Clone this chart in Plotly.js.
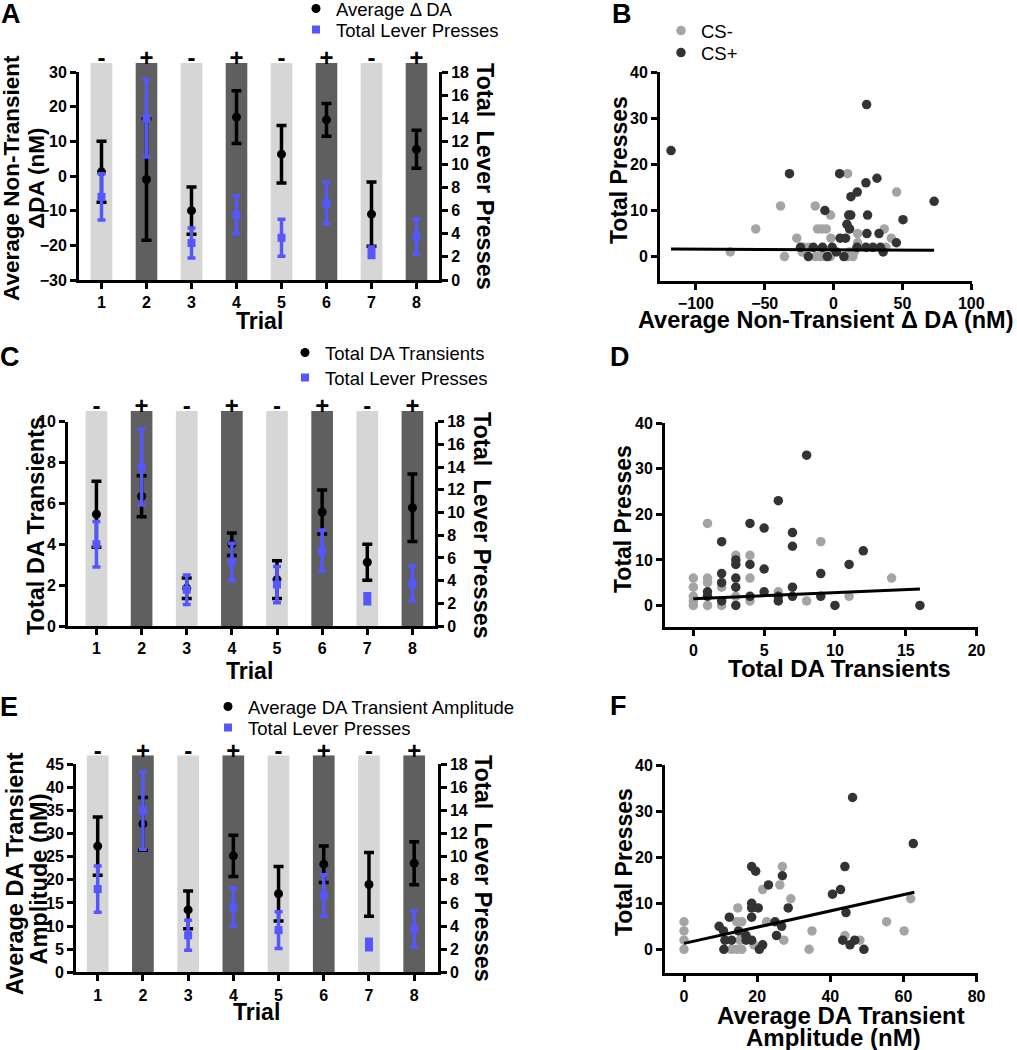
<!DOCTYPE html>
<html><head><meta charset="utf-8">
<script src="https://cdn.plot.ly/plotly-3.0.1.min.js"></script>
<style>html,body{margin:0;padding:0;background:#fff}</style>
</head><body><div id="chart" style="width:1017px;height:1050px"></div>
<script>
// ---------------- data ----------------
const trials = [1, 2, 3, 4, 5, 6, 7, 8];
const csSigns = ['-', '+', '-', '+', '-', '+', '-', '+'];
const leverMean = [7.2, 14.0, 3.2, 5.65, 3.65, 6.65, 2.4, 3.75];
const leverSem = [2.0, 3.35, 1.3, 1.65, 1.6, 1.8, 0.45, 1.55];
const avgDAMean = [1.2, -1.0, -10.0, 17.0, 6.3, 16.2, -11.0, 7.7];
const avgDASem = [8.8, 17.5, 6.8, 7.6, 8.3, 4.7, 9.3, 5.5];
const transMean = [5.47, 6.35, 1.85, 4.0, 2.27, 5.58, 3.12, 5.79];
const transSem = [1.62, 1.0, 0.5, 0.55, 0.92, 1.08, 0.88, 1.65];
const ampMean = [27.3, 32.1, 13.5, 25.2, 17.0, 23.4, 19.0, 23.6];
const ampSem = [6.3, 5.7, 4.1, 4.45, 5.9, 3.95, 6.9, 4.65];

// B: Average non-transient dDA vs total presses
const bMinusX = [-75, -38.5, -56.5, -35.6, -26.7, -13.3, -2.2, -11.6, -8.5, -5.3, 10.2, 45.8, 36.8, 41.9, 17.5, 17.5, -1.9, -21.8, -18, -22.8, -13, -9.7, -6.5, -2.4, 10, 14, 11.6, 15, 38];
const bMinusY = [1, 11, 6, 0, 4, 11, 9, 6, 6, 6, 18, 14, 6, 4, 5, 3, 4, 2, 2, 1, 0, 0, 0, 0, 0, 0, 1, 1, 2];
const bPlusX = [-118, -32, 4.4, 24, 23.5, 17.2, 31.5, 12.6, -6.3, 11, 12.5, 24.7, 73, 50.4, 9.7, 11.6, 24.2, 33, 4.8, 8.7, 45.6, -24, -14.7, -8, -1, 17, 23.5, 28.6, 34, 2, 36, -18.3, -4.5, 7.5];
const bPlusY = [23, 18, 18, 33, 16, 14, 17, 13, 10, 9, 9, 9, 12, 8, 7, 6, 5, 5, 4, 4, 3, 2, 2, 2, 2, 2, 2, 2, 2, 1, 1, 0, 0, 0];
const bFitX = [-118, 73];
const bFitY = [1.66, 1.37];

// D: Total DA transients vs total presses
const dMinusX = [1, 9, 3, 4, 14, 0, 0, 0, 0, 0, 1, 1, 1, 2, 2, 4, 4, 6, 8, 11, 3];
const dMinusY = [18, 14, 11, 11, 6, 6, 4, 2, 1, 0, 6, 5, 0, 4, 0, 6, 1, 3, 1, 2, 2];
const dPlusX = [8, 6, 4, 5, 7, 2, 7, 12, 3, 3, 4, 11, 5, 2, 9, 2, 3, 1, 3, 7, 5, 6, 6, 4, 7, 9, 2, 1, 3, 10, 16];
const dPlusY = [33, 23, 18, 17, 16, 14, 13, 12, 10, 9, 9, 9, 8, 7, 7, 5, 6, 3, 4, 4, 3, 2, 1, 2, 2, 2, 1, 2, 0, 0, 0];
const dFitX = [0, 16];
const dFitY = [1.47, 3.6];

// F: Average DA transient amplitude vs total presses
const fMinusX = [26.9, 26.2, 21.5, 29.2, 62, 14.7, 55.4, 60.2, 35, 34.2, 0, 0, 0, 0, 14.4, 15.8, 22.6, 27.3, 44, 48.1, 14.4, 15.8, 13, 19.1, 15.3, 17];
const fMinusY = [18, 14, 13, 11, 11, 9, 6, 4, 4, 0, 6, 4, 2, 0, 6, 6, 6, 2, 3, 2, 0, 0, 0, 1, 2, 3];
const fPlusX = [46.1, 62.7, 18.5, 44, 19.6, 26.9, 23.1, 42.8, 40.6, 18.5, 18.5, 20.3, 28.5, 44.3, 18.5, 12.4, 24.9, 9.6, 26.7, 10.8, 14.9, 25.3, 16.9, 11.2, 13, 17, 18.5, 43.4, 46.7, 21.5, 45.4, 10.9, 20.6, 49.2];
const fPlusY = [33, 23, 18, 18, 17, 16, 14, 13, 12, 10, 9, 9, 9, 8, 7, 7, 6, 5, 5, 4, 4, 3, 3, 2, 2, 2, 2, 2, 2, 1, 1, 0, 0, 0];
const fFitX = [0, 63];
const fFitY = [1.3, 12.4];

// ---------------- styling / layout ----------------
const W = 1017, H = 1050;
const FONT = '"Liberation Sans", Arial, sans-serif';
const BLUE = '#5656ff', LIGHT = '#d6d6d6', DARK = '#5f5f5f', CSM = '#a4a4a4', CSP = '#333333';
const px = v => v / W;
const py = v => 1 - v / H;
const dX = (a, b) => [px(a), px(b)];
const dY = (top, bottom) => [py(bottom), py(top)];

const layout = {
  width: W, height: H,
  margin: {l: 0, r: 0, t: 0, b: 0, autoexpand: false},
  paper_bgcolor: '#ffffff', plot_bgcolor: 'rgba(0,0,0,0)',
  font: {family: FONT, color: '#000'},
  showlegend: true,
  annotations: []
};
const traces = [];

function axStyle(extra) {
  return Object.assign({
    showline: true, linewidth: 3, linecolor: '#000',
    ticks: 'outside', ticklen: 6, tickwidth: 3, tickcolor: '#000',
    showgrid: false, zeroline: false, fixedrange: true, automargin: false,
    tickfont: {family: FONT, size: 16, color: '#000', weight: 'bold'}
  }, extra);
}
const key = (ax, n) => ax + 'axis' + (n === 1 ? '' : n);
const id = (ax, n) => ax + (n === 1 ? '' : n);
const legId = n => 'legend' + (n === 1 ? '' : n);

function ann(text, x, y, size, angle, weight) {
  layout.annotations.push({
    text: text, xref: 'paper', yref: 'paper', x: px(x), y: py(y),
    xanchor: 'center', yanchor: 'middle', showarrow: false, textangle: angle || 0,
    font: {family: FONT, size: size, color: '#000', weight: weight || 'bold'}
  });
}

// one legend per entry so each entry can be placed where the reference has it
function addLegend(n, textLeft, centerY) {
  layout[legId(n)] = {x: px(textLeft - 40), y: py(centerY - 20), xanchor: 'left', yanchor: 'top',
    bgcolor: 'rgba(0,0,0,0)', borderwidth: 0, itemclick: false, itemdoubleclick: false,
    font: {family: FONT, size: 18.5, color: '#000'}};
}

function barPanel(k, cfg) {
  const bx = 2 * k + 1, mx = 2 * k + 2;
  const by = 3 * k + 1, ly = 3 * k + 2, ry = 3 * k + 3;
  const xd = dX(cfg.left, cfg.right);
  // background CS bars
  traces.push({
    type: 'bar', x: trials, y: trials.map(() => 1), width: 0.48,
    xaxis: id('x', bx), yaxis: id('y', by), showlegend: false, hoverinfo: 'skip',
    marker: {color: csSigns.map(s => s === '+' ? DARK : LIGHT), line: {width: 0}}
  });
  layout[key('x', bx)] = {domain: xd, range: cfg.xr, anchor: id('y', by), side: 'top',
    tickmode: 'array', tickvals: trials, ticktext: csSigns, ticks: '', showline: false,
    showgrid: false, zeroline: false, fixedrange: true, ticklabelstandoff: -9, automargin: false,
    tickfont: {family: FONT, size: 24, color: '#000', weight: 'bold'}};
  layout[key('y', by)] = {domain: dY(cfg.barTop, cfg.bottom), range: [0, 1], anchor: id('x', bx),
    visible: false, fixedrange: true};
  // main axes
  layout[key('x', mx)] = axStyle({domain: xd, range: cfg.xr, anchor: id('y', ly),
    tickmode: 'array', tickvals: trials});
  layout[key('y', ly)] = axStyle({domain: dY(cfg.top, cfg.bottom), range: cfg.yr, anchor: id('x', mx),
    tickmode: 'array', tickvals: cfg.yticks});
  layout[key('y', ry)] = axStyle({overlaying: id('y', ly), side: 'right', anchor: id('x', mx),
    range: [0, 18], tickmode: 'linear', tick0: 0, dtick: 2});
  traces.push({
    type: 'scatter', mode: 'markers', x: trials, y: cfg.mean, name: cfg.name,
    xaxis: id('x', mx), yaxis: id('y', ly), legend: legId(cfg.leg[0]), cliponaxis: false,
    marker: {color: '#000', size: 9, symbol: 'circle'},
    error_y: {type: 'data', array: cfg.sem, visible: true, color: '#000', thickness: 3.5, width: 5}
  });
  traces.push({
    type: 'scatter', mode: 'markers', x: trials, y: leverMean, name: 'Total Lever Presses',
    xaxis: id('x', mx), yaxis: id('y', ry), legend: legId(cfg.leg[1]), cliponaxis: false,
    marker: {color: BLUE, size: 8, symbol: 'square'},
    error_y: {type: 'data', array: leverSem, visible: true, color: BLUE, thickness: 3.5, width: 4}
  });
}

function scatterPanel(k, cfg) {
  const xn = 7 + k, yn = 10 + k;
  layout[key('x', xn)] = axStyle({domain: dX(cfg.left, cfg.right), range: cfg.xr, anchor: id('y', yn),
    tickmode: 'array', tickvals: cfg.xticks});
  layout[key('y', yn)] = axStyle({domain: dY(cfg.top, cfg.bottom), range: cfg.yr, anchor: id('x', xn),
    tickmode: 'array', tickvals: [0, 10, 20, 30, 40]});
  const common = {type: 'scatter', mode: 'markers', xaxis: id('x', xn), yaxis: id('y', yn), cliponaxis: false};
  const show = !!cfg.leg;
  traces.push(Object.assign({}, common, {x: cfg.mx, y: cfg.my, name: 'CS-',
    marker: {color: CSM, size: 9.5}, showlegend: show, legend: show ? legId(cfg.leg[0]) : 'legend'}));
  traces.push(Object.assign({}, common, {x: cfg.px, y: cfg.pyv, name: 'CS+',
    marker: {color: CSP, size: 9.5}, showlegend: show, legend: show ? legId(cfg.leg[1]) : 'legend'}));
  traces.push({type: 'scatter', mode: 'lines', x: cfg.fx, y: cfg.fy, xaxis: id('x', xn), yaxis: id('y', yn),
    line: {color: '#000', width: 3}, showlegend: false, hoverinfo: 'skip'});
}

// Panel A
barPanel(0, {left: 79, right: 439, top: 72, bottom: 280, barTop: 63, xr: [0.5, 8.5], yr: [-30, 30],
  yticks: [-30, -20, -10, 0, 10, 20, 30], mean: avgDAMean, sem: avgDASem, name: 'Average \u0394 DA', leg: [1, 2]});
// Panel C
barPanel(1, {left: 68, right: 435, top: 421.7, bottom: 626, barTop: 411, xr: [0.37, 8.5], yr: [0, 10],
  yticks: [0, 2, 4, 6, 8, 10], mean: transMean, sem: transSem, name: 'Total DA Transients', leg: [3, 4]});
// Panel E
barPanel(2, {left: 76, right: 437.7, top: 764.3, bottom: 972.3, barTop: 755.3, xr: [0.52, 8.52], yr: [0, 45],
  yticks: [0, 5, 10, 15, 20, 25, 30, 35, 40, 45], mean: ampMean, sem: ampSem, name: 'Average DA Transient Amplitude', leg: [5, 6]});

// Panel B
scatterPanel(0, {left: 660, right: 972, top: 72.3, bottom: 281, xr: [-126, 100.5], yr: [-5.3, 40],
  xticks: [-100, -50, 0, 50, 100], mx: bMinusX, my: bMinusY, px: bPlusX, pyv: bPlusY, fx: bFitX, fy: bFitY, leg: [7, 8]});
// Panel D
scatterPanel(1, {left: 665, right: 978, top: 423.3, bottom: 627.3, xr: [-2, 20.1], yr: [-4.8, 40],
  xticks: [0, 5, 10, 15, 20], mx: dMinusX, my: dMinusY, px: dPlusX, pyv: dPlusY, fx: dFitX, fy: dFitY});
// Panel F
scatterPanel(2, {left: 665, right: 978, top: 765.3, bottom: 973.3, xr: [-5.2, 80.4], yr: [-5.2, 40],
  xticks: [0, 20, 40, 60, 80], mx: fMinusX, my: fMinusY, px: fPlusX, pyv: fPlusY, fx: fFitX, fy: fFitY});

// legends (text left edge, entry centre y)
addLegend(1, 336, 10); addLegend(2, 336, 31);
addLegend(3, 325, 354); addLegend(4, 325, 379);
addLegend(5, 248, 708); addLegend(6, 248, 729);
addLegend(7, 701, 32); addLegend(8, 701, 54);

// panel letters
ann('A', 11, 14, 27); ann('B', 622, 14, 27);
ann('C', 10, 357, 27); ann('D', 620, 357, 27);
ann('E', 9, 707, 27); ann('F', 618, 706, 27);

// axis titles
ann('Trial', 259, 321, 23);
ann('Trial', 249, 671, 23);
ann('Trial', 256, 1012, 23);
ann('Average Non-Transient', 11, 178, 22.5, -90);
ann('\u0394DA (nM)', 36, 178, 22.5, -90);
ann('Total DA Transients', 36, 526, 23.5, -90);
ann('Average DA Transient', 15, 874, 23.5, -90);
ann('Amplitude (nM)', 38.5, 879, 23.5, -90);
ann('Total  Lever Presses', 485, 176, 23.5, 90);
ann('Total  Lever Presses', 482, 525, 23.5, 90);
ann('Total  Lever Presses', 483, 868, 23.5, 90);
ann('Total Presses', 619, 170, 23, -90);
ann('Total Presses', 623, 519, 23, -90);
ann('Total Presses', 624, 862, 23, -90);
ann('Average Non-Transient \u0394 DA (nM)', 826, 320, 23.5);
ann('Total DA Transients', 839, 668, 24);
ann('Average DA Transient', 841, 1015, 24);
ann('Amplitude (nM)', 833, 1037, 24);

Plotly.newPlot('chart', traces, layout, {displayModeBar: false, staticPlot: true});
</script>
</body></html>
